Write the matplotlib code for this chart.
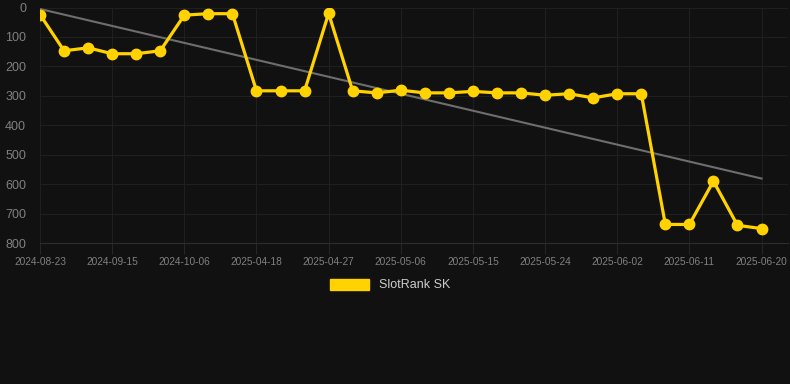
import matplotlib
matplotlib.use("Agg")
import matplotlib.pyplot as plt
from matplotlib.patches import Patch

# dates on the category axis (one per point)
dates = ["2024-08-23", "2024-08-31", "2024-09-07", "2024-09-15", "2024-09-22",
         "2024-09-29", "2024-10-06", "2025-04-10", "2025-04-14", "2025-04-18",
         "2025-04-21", "2025-04-24", "2025-04-27", "2025-04-30", "2025-05-03",
         "2025-05-06", "2025-05-09", "2025-05-12", "2025-05-15", "2025-05-18",
         "2025-05-21", "2025-05-24", "2025-05-27", "2025-05-30", "2025-06-02",
         "2025-06-05", "2025-06-08", "2025-06-11", "2025-06-14", "2025-06-17",
         "2025-06-20"]
rank = [24, 147, 137, 157, 157, 147, 26, 21, 21, 283,
        283, 283, 20, 283, 290, 281, 290, 290, 285, 290,
        290, 298, 293, 307, 293, 293, 737, 737, 590, 740,
        751]
trend = [5, 581]  # trend line value at first and last point
label_every = 3
series_name = "SlotRank SK"

bg = "#111111"
gold = "#FFD200"

fig = plt.figure(figsize=(7.9, 3.84), dpi=100, facecolor=bg)
ax = fig.add_axes([40 / 790, 1 - 243 / 384, 748 / 790, (243 - 7.5) / 384])
ax.set_facecolor(bg)

x = list(range(len(rank)))
ax.plot([x[0], x[-1]], trend, color="#6e6e6e", lw=1.5, zorder=2)
ax.plot(x, rank, color=gold, lw=2.3, marker="o", markersize=7.5, zorder=3)

ax.set_xlim(0, 31.1)
ax.set_ylim(800, 0)
ax.set_yticks(range(0, 801, 100))
ax.set_xticks(x[::label_every])
ax.set_xticklabels(dates[::label_every])

ax.grid(True, color="#1f1f1f", lw=0.8)
ax.set_axisbelow(True)
for s in ["top", "right", "left"]:
    ax.spines[s].set_visible(False)
ax.spines["bottom"].set_color("#2e2e2e")

ax.tick_params(axis="x", colors="#262626", length=8, width=0.8, labelcolor="#808080",
               labelsize=7.3, pad=2)
ax.tick_params(axis="y", length=0, labelcolor="#808080", labelsize=9, pad=10)
for t in ax.get_xticklabels() + ax.get_yticklabels():
    t.set_fontfamily("Liberation Sans")

leg = fig.legend(handles=[Patch(facecolor=gold, edgecolor=gold, label=series_name)],
                 loc="center", bbox_to_anchor=(390 / 790, 1 - 285 / 384),
                 frameon=False, handlelength=3.1, handleheight=1.0,
                 prop={"family": "Liberation Sans", "size": 9})
for t in leg.get_texts():
    t.set_color("#cccccc")

fig.savefig("out.png", dpi=100, facecolor=bg)
